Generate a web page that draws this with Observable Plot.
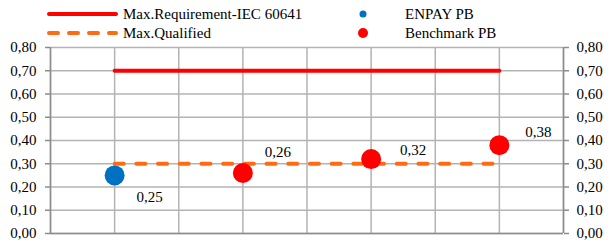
<!DOCTYPE html>
<html><head><meta charset="utf-8">
<script src="https://cdn.jsdelivr.net/npm/d3@7"></script>
<script src="https://cdn.jsdelivr.net/npm/@observablehq/plot@0.6"></script>
<style>
body{margin:0;background:#fff;}
#legend svg, #chart svg{display:block;}
svg text{font-family:"Liberation Serif",Tinos,"Times New Roman",Times,"DejaVu Serif","Noto Serif",serif !important;}
</style>
</head><body><div id="legend"></div><div id="chart"></div>
<script>
// ---- data ----
const categoryPositions = [1, 3, 5, 7];
const categoryBoundaries = [0, 1, 2, 3, 4, 5, 6, 7, 8];
const enpayPB = [0.25, null, null, null];
const benchmarkPB = [null, 0.26, 0.32, 0.38];
const maxRequirement = [0.70, 0.70, 0.70, 0.70];
const maxQualified = [0.30, 0.30, 0.30, 0.30];
const valueLabels = ["0,25", "0,26", "0,32", "0,38"];
const yTicks = [0, 0.1, 0.2, 0.3, 0.4, 0.5, 0.6, 0.7, 0.8];
const yTickLabels = ["0,00", "0,10", "0,20", "0,30", "0,40", "0,50", "0,60", "0,70", "0,80"];
const seriesNames = ["Max.Requirement-IEC 60641", "Max.Qualified", "ENPAY PB", "Benchmark PB"];

// ---- layout / style (not data) ----
const labelOffsets = [[35, 22], [35, -21], [42, -9], [39, -13]];
const colors = {req: "#FF0000", qual: "#FF6A13", enpay: "#0070C0", bench: "#FF0000"};
const grid = "#B3B3B3", axisCol = "#8C8C8C";

// ---- legend ----
const lg = d3.select("#legend").append("svg").attr("width", 608).attr("height", 40)
  .style("font-size", "15px");
lg.append("line").attr("x1", 49).attr("x2", 116).attr("y1", 14).attr("y2", 14)
  .attr("stroke", colors.req).attr("stroke-width", 4).attr("stroke-linecap", "round");
lg.append("line").attr("x1", 49).attr("x2", 116).attr("y1", 33).attr("y2", 33)
  .attr("stroke", colors.qual).attr("stroke-width", 4).attr("stroke-linecap", "round")
  .attr("stroke-dasharray", "9,11");
lg.append("circle").attr("cx", 363).attr("cy", 14).attr("r", 3.5).attr("fill", colors.enpay);
lg.append("circle").attr("cx", 363).attr("cy", 33).attr("r", 5).attr("fill", colors.bench);
[[123, 14, 0], [123, 33, 1], [405, 14, 2], [405, 33, 3]].forEach(([x, y, i]) => {
  lg.append("text").attr("x", x).attr("y", y).attr("dy", "0.35em").attr("fill", "#000").text(seriesNames[i]);
});

// ---- chart ----
const rows = categoryPositions.map((x, i) => ({
  x, enpay: enpayPB[i], bench: benchmarkPB[i], req: maxRequirement[i], qual: maxQualified[i],
  value: enpayPB[i] ?? benchmarkPB[i], label: valueLabels[i]
}));

const labelMarks = rows.map((r, i) => Plot.text([r], {
  x: "x", y: "value", text: "label", dx: labelOffsets[i][0], dy: labelOffsets[i][1],
  fill: "#000", fontSize: 15
}));

const chart = Plot.plot({
  width: 608, height: 205,
  marginLeft: 50, marginRight: 45, marginTop: 7, marginBottom: 12,
  style: {fontSize: "15px", color: "#000", background: "#fff"},
  x: {domain: [0, 8], axis: null},
  y: {domain: [0, 0.8], axis: null},
  marks: [
    Plot.ruleX(categoryBoundaries, {stroke: grid, strokeWidth: 1.5}),
    Plot.ruleY(yTicks, {stroke: grid, strokeWidth: 1.5}),
    Plot.ruleX([0, 8], {stroke: axisCol, strokeWidth: 1.5}),
    Plot.ruleY([0], {stroke: axisCol, strokeWidth: 1.5}),
    Plot.axisY(yTicks, {anchor: "left", tickSize: 5, tickPadding: 9, stroke: axisCol, strokeWidth: 1.5,
      tickFormat: (d, i) => yTickLabels[i], fontSize: 15, fill: "#000"}),
    Plot.axisY(yTicks, {anchor: "right", tickSize: 5, tickPadding: 8, stroke: axisCol, strokeWidth: 1.5,
      tickFormat: (d, i) => yTickLabels[i], fontSize: 15, fill: "#000"}),
    Plot.line(rows, {x: "x", y: "req", stroke: colors.req, strokeWidth: 4}),
    Plot.line(rows, {x: "x", y: "qual", stroke: colors.qual, strokeWidth: 4,
      strokeDasharray: "9,12.7", strokeLinecap: "round"}),
    Plot.dot(rows.filter(r => r.enpay != null), {x: "x", y: "enpay", r: 10, fill: colors.enpay}),
    Plot.dot(rows.filter(r => r.bench != null), {x: "x", y: "bench", r: 10, fill: colors.bench}),
    ...labelMarks
  ]
});
document.getElementById("chart").appendChild(chart);
</script>
</body></html>
